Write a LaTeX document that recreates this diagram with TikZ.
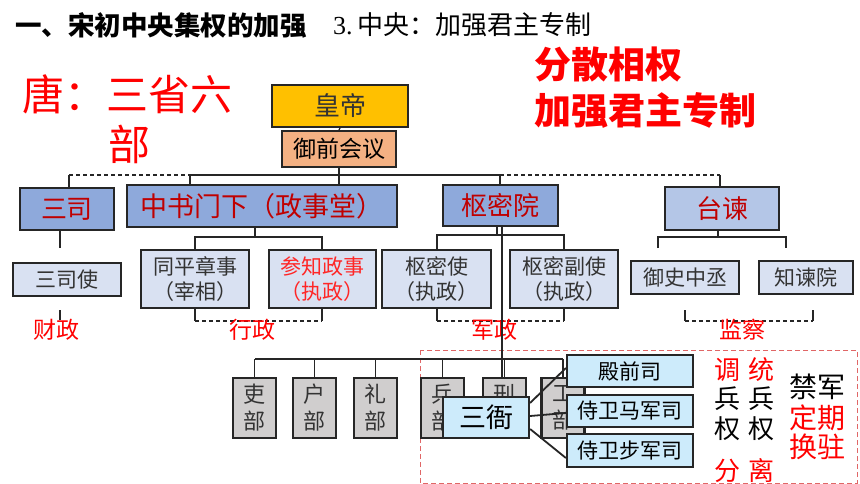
\documentclass[tikz,border=0pt]{standalone}
\usepackage{fontspec}
\setmainfont{Noto Sans CJK SC}
\newfontfamily\serifnum{Liberation Serif}
\definecolor{gold}{HTML}{FFC000}
\definecolor{peach}{HTML}{F4B183}
\definecolor{midblue}{HTML}{8EA9DB}
\definecolor{lightblueb}{HTML}{B4C6E7}
\definecolor{paleblue}{HTML}{D9E1F2}
\definecolor{skyblue}{HTML}{CDEBFB}
\definecolor{mgray}{HTML}{D0CECE}
\definecolor{darkred}{HTML}{C00000}
\definecolor{brightred}{HTML}{FF0000}
\definecolor{pinkdash}{HTML}{E06666}
\definecolor{textgray}{HTML}{333333}
\tikzset{
  fs/.style 2 args={font=\fontsize{#1}{#2}\selectfont},
  box/.style={draw=black!85, line width=2.2pt, inner sep=0pt, align=center},
  conn/.style={line width=1.3pt, black!85},
  dashconn/.style={line width=1.3pt, black!85, dash pattern=on 4pt off 3pt},
  lab/.style={inner sep=0pt, text=brightred, fs={23}{27}},
}
\begin{document}
\begin{tikzpicture}[x=1pt,y=-1pt]
\useasboundingbox (0,0) rectangle (860,484);
\fill[white] (0,0) rectangle (860,484);

% titles
\node[anchor=west, inner sep=0pt, font=\bfseries\fontsize{26.5}{30}\selectfont] (title) at (15,25) {一、宋初中央集权的加强};
\node[anchor=west, inner sep=0pt, fs={26}{30}] (sub) at (333,25) {{\serifnum 3.}\,中央：加强君主专制};
\node[anchor=west, inner sep=0pt, text=brightred, font=\bfseries\fontsize{37}{40}\selectfont] (fen) at (534,64.5) {分散相权};
\node[anchor=west, inner sep=0pt, text=brightred, font=\bfseries\fontsize{37}{40}\selectfont] (jia) at (534,110.5) {加强君主专制};
\node[inner sep=0pt, text=brightred, fs={42}{46}] (tang) at (127.5,94) {唐：三省六};
\node[inner sep=0pt, text=brightred, fs={42}{46}] (tangbu) at (129,144) {部};

% pink dashed frame
\draw[pinkdash, line width=1pt, dash pattern=on 5pt off 3pt] (420,350) rectangle (857,483);

% coordinates for the top bus
\coordinate (busL) at (69,175);
\coordinate (busA) at (190,175);
\coordinate (busB) at (500,175);
\coordinate (busR) at (720,175);

% boxes (level 1)
\node[box, fill=gold, minimum width=136pt, minimum height=42pt, text=textgray, fs={26}{30}] (huangdi) at (340,106) {皇帝};
\node[box, fill=peach, minimum width=114pt, minimum height=36pt, text=black, fs={23}{27}] (yuqian) at (339,149) {御前会议};
\node[box, fill=midblue, minimum width=94pt, minimum height=42pt, text=darkred, fs={26}{30}] (sansi) at (67,209) {三司};
\node[box, fill=midblue, minimum width=270pt, minimum height=42pt, text=darkred, fs={27}{31}] (zhongshu) at (262,206) {中书门下（政事堂）};
\node[box, fill=midblue, minimum width=115pt, minimum height=41pt, text=darkred, fs={26}{30}] (shumi) at (500.5,205.5) {枢密院};
\node[box, fill=lightblueb, minimum width=114pt, minimum height=43pt, text=darkred, fs={26}{30}] (taijian) at (722,208.5) {台谏};

% level 2
\node[box, fill=paleblue, minimum width=108pt, minimum height=33pt, text=textgray, fs={21}{25}] (sansishi) at (67,279.5) {三司使};
\node[box, fill=paleblue, minimum width=108pt, minimum height=58pt, text=textgray, fs={21}{25}] (tongping) at (195,279) {同平章事\\（宰相）};
\node[box, fill=paleblue, minimum width=107pt, minimum height=58pt, text=brightred!85, fs={21}{25}] (canzhi) at (322.5,279) {参知政事\\（执政）};
\node[box, fill=paleblue, minimum width=109pt, minimum height=58pt, text=textgray, fs={21}{25}] (shumishi) at (436.5,279) {枢密使\\（执政）};
\node[box, fill=paleblue, minimum width=108pt, minimum height=58pt, text=textgray, fs={21}{25}] (shumifu) at (564,279) {枢密副使\\（执政）};
\node[box, fill=paleblue, minimum width=108pt, minimum height=33pt, text=textgray, fs={21}{25}] (yushi) at (685,277.5) {御史中丞};
\node[box, fill=paleblue, minimum width=94pt, minimum height=33pt, text=textgray, fs={21}{25}] (zhijian) at (806,277.5) {知谏院};

% top connectors
\draw[dashconn] (busL) -- (busA);
\draw[conn] (busA) -- (busB);
\draw[dashconn] (busB) -- (busR);
\draw[conn] (busL) -- (busL |- sansi.north);
\draw[conn] (busA) -- (busA |- zhongshu.north);
\draw[conn] (huangdi.south) -- (yuqian.north);
\draw[conn] (yuqian.south) -- (yuqian.south |- zhongshu.north);
\draw[conn] (busB) -- (busB |- shumi.north);
\draw[conn] (busR) -- (busR |- taijian.north);

% 三司
\coordinate (s1) at (60,248);
\coordinate (s2) at (60,310);
\coordinate (s3) at (60,320);
\draw[conn] (s1 |- sansi.south) -- (s1);
\draw[conn] (s2) -- (s3);

% 中书门下 bracket
\coordinate (z0) at (255,237);
\coordinate (zl) at (195,237);
\coordinate (zr) at (322,237);
\draw[conn] (z0 |- zhongshu.south) -- (z0);
\draw[conn] (zl |- tongping.north) -- (zl) -- (zr) -- (zr |- canzhi.north);
\coordinate (zbl) at (195,321);
\coordinate (zbr) at (322,321);
\draw[conn] (zbl |- tongping.south) -- (zbl);
\draw[conn] (zbr |- canzhi.south) -- (zbr);
\draw[dashconn] (zbl) -- (zbr);

% 枢密院 bracket
\coordinate (m0) at (497,235);
\coordinate (ml) at (437,235);
\coordinate (mr) at (564,235);
\draw[conn] (m0 |- shumi.south) -- (m0);
\draw[conn] (ml |- shumishi.north) -- (ml) -- (mr) -- (mr |- shumifu.north);
\coordinate (mbl) at (437,321);
\coordinate (mbr) at (564,321);
\draw[conn] (mbl |- shumishi.south) -- (mbl);
\draw[conn] (mbr |- shumifu.south) -- (mbr);
\draw[dashconn] (mbl) -- (mbr);

% 台谏 bracket
\coordinate (t0) at (718,237);
\coordinate (tl) at (658,237);
\coordinate (tr) at (786,237);
\coordinate (tld) at (658,248);
\coordinate (trd) at (786,248);
\draw[conn] (t0 |- taijian.south) -- (t0);
\draw[conn] (tld) -- (tl) -- (tr) -- (trd);
\coordinate (tbl) at (685,321);
\coordinate (tbr) at (813,321);
\draw[conn] (685,310) -- (tbl);
\draw[conn] (813,310) -- (tbr);
\draw[dashconn] (tbl) -- (tbr);

% labels
\node[lab] (caizheng) at (56,330) {财政};
\node[lab] (xingzheng) at (252,330) {行政};
\node[lab] (junzheng) at (494.5,330) {军政};
\node[lab] (jiancha) at (742.5,330) {监察};

% ministries
\coordinate (long) at (502,226);
\coordinate (mbusL) at (255,359);
\coordinate (mbusR) at (563,359);
\draw[conn] (long) -- (502,397);
\draw[conn] (mbusL) -- (mbusR);
\foreach \nm/\cx/\ch in {li/254.5/吏, hu/314.5/户, lib/375.5/礼, bing/442.5/兵, xing/504.5/刑, gong/563/工}{
  \draw[conn] (\cx,359) -- (\cx,378);
  \node[box, fill=mgray, minimum width=43pt, minimum height=60pt, text=textgray, fs={22}{27}] (\nm) at (\cx,408) {\ch\\部};
}

% 三衙
\node[box, fill=skyblue, minimum width=86pt, minimum height=41pt, text=black, fs={27}{31}] (sanya) at (486,417.5) {三衙};
\node[box, fill=skyblue, minimum width=126pt, minimum height=32pt, text=black, fs={21}{25}] (dianqian) at (630,371) {殿前司};
\node[box, fill=skyblue, minimum width=126pt, minimum height=32pt, text=black, fs={21}{25}] (majun) at (630,411) {侍卫马军司};
\node[box, fill=skyblue, minimum width=126pt, minimum height=33pt, text=black, fs={21}{25}] (bujun) at (630,450.5) {侍卫步军司};
\draw[conn, line width=1.8pt] ([yshift=14.5pt]sanya.east) -- ([yshift=3pt]dianqian.west);
\draw[conn, line width=1.8pt] ([yshift=1.5pt]sanya.east) -- ([yshift=-2pt]majun.west);
\draw[conn, line width=1.8pt] ([yshift=-11.5pt]sanya.east) -- ([yshift=-7.5pt]bujun.west);

% right texts
\node[inner sep=0pt, text=brightred, fs={26}{30}] (d1) at (727,370) {调};
\node[inner sep=0pt, text=brightred, fs={26}{30}] (t1) at (761,370) {统};
\node[inner sep=0pt, text=black, fs={26}{30}] (d2) at (727,399) {兵};
\node[inner sep=0pt, text=black, fs={26}{30}] (t2) at (761,399) {兵};
\node[inner sep=0pt, text=black, fs={26}{30}] (d3) at (727,429) {权};
\node[inner sep=0pt, text=black, fs={26}{30}] (t3) at (761,429) {权};
\node[inner sep=0pt, text=brightred, fs={26}{30}] (d4) at (727,471) {分};
\node[inner sep=0pt, text=brightred, fs={26}{30}] (t4) at (761,471) {离};
\node[inner sep=0pt, text=black, fs={28}{32}] (jinjun) at (817.5,387) {禁军};
\node[inner sep=0pt, text=brightred, fs={28}{32}] (dingqi) at (817.5,418) {定期};
\node[inner sep=0pt, text=brightred, fs={28}{32}] (huanzhu) at (817.5,447) {换驻};
\end{tikzpicture}
\end{document}
